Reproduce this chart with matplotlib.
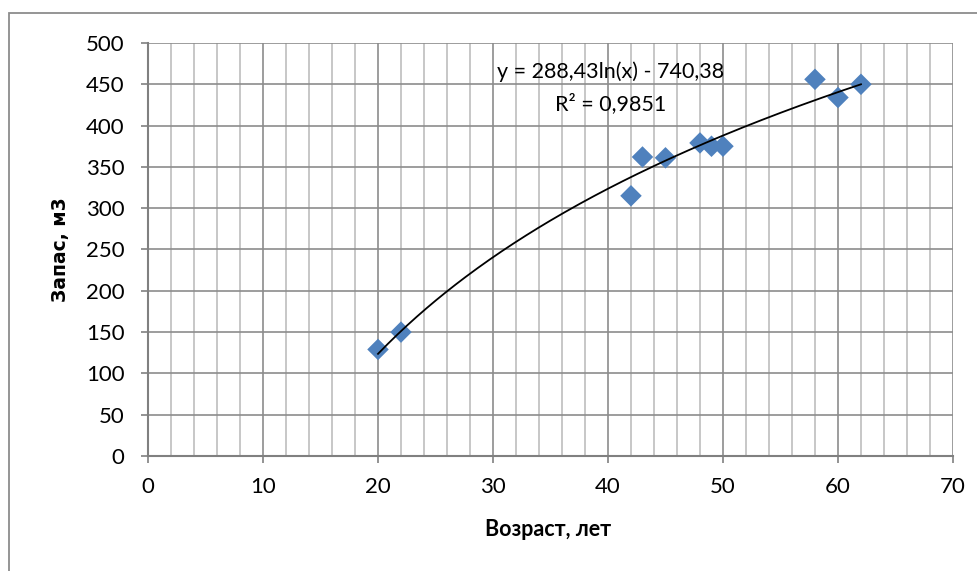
import numpy as np
import matplotlib.pyplot as plt
from matplotlib.patches import Rectangle
from matplotlib.ticker import MultipleLocator

# Данные: возраст (лет) и запас (м3)
vozrast = [20, 22, 42, 43, 45, 48, 49, 50, 58, 60, 62]
zapas = [129, 150, 315, 362, 361, 379, 375, 375, 456, 434, 450]

# Логарифмический тренд y = a*ln(x) + b
coef_a, coef_b = 288.43, -740.38
ecuacion = "y = 288,43ln(x) - 740,38"
r2_texto = "R² = 0,9851"

plt.rcParams['font.family'] = ['Lato', 'DejaVu Sans']

fig = plt.figure(figsize=(9.77, 5.71), dpi=100)
ax = fig.add_axes([0.1515, 0.2014, 0.8239, 0.7233])

# рамка области диаграммы
fig.patches.append(Rectangle((9 / 977, -0.01), 1.0, 1 - 12.5 / 571 + 0.01,
                             transform=fig.transFigure, fill=False,
                             edgecolor='#8c8c8c', linewidth=1.3))

ax.set_xlim(0, 70)
ax.set_ylim(0, 500)
ax.xaxis.set_major_locator(MultipleLocator(10))
ax.xaxis.set_minor_locator(MultipleLocator(2))
ax.yaxis.set_major_locator(MultipleLocator(50))

ax.grid(True, which='major', axis='both', color='#8c8c8c', linewidth=1.2)
ax.grid(True, which='minor', axis='x', color='#bdbdbd', linewidth=1.2)
ax.set_axisbelow(True)

for lado in ['top', 'right']:
    ax.spines[lado].set_visible(False)
ax.spines['left'].set_color('#808080')
ax.spines['bottom'].set_color('#808080')
ax.spines['left'].set_linewidth(1.5)
ax.spines['bottom'].set_linewidth(1.5)

ax.tick_params(axis='both', which='major', length=5, color='#808080',
               labelsize=16, width=1.2)
ax.tick_params(axis='x', which='minor', length=0)
ax.tick_params(axis='x', pad=10)
ax.tick_params(axis='y', pad=12)

ax.scatter(vozrast, zapas, marker='D', s=120, color='#4F81BD', zorder=3,
           edgecolors='none')

xt = np.linspace(min(vozrast), max(vozrast), 200)
ax.plot(xt, coef_a * np.log(xt) + coef_b, color='black', linewidth=1.3,
        zorder=4)

ax.text(40.26, 465, ecuacion, ha='center', va='center', fontsize=15.5)
ax.text(40.26, 427, r2_texto, ha='center', va='center', fontsize=15.5)

ax.set_xlabel('Возраст, лет', fontsize=15.5, fontweight='bold')
ax.xaxis.set_label_coords(0.4975, -0.153)
ax.set_ylabel('Запас, м3', fontsize=13.5, fontweight='bold',
              family=['DejaVu Sans'])
ax.yaxis.set_label_coords(-0.097, 0.5)

fig.savefig('out.png', dpi=100)
